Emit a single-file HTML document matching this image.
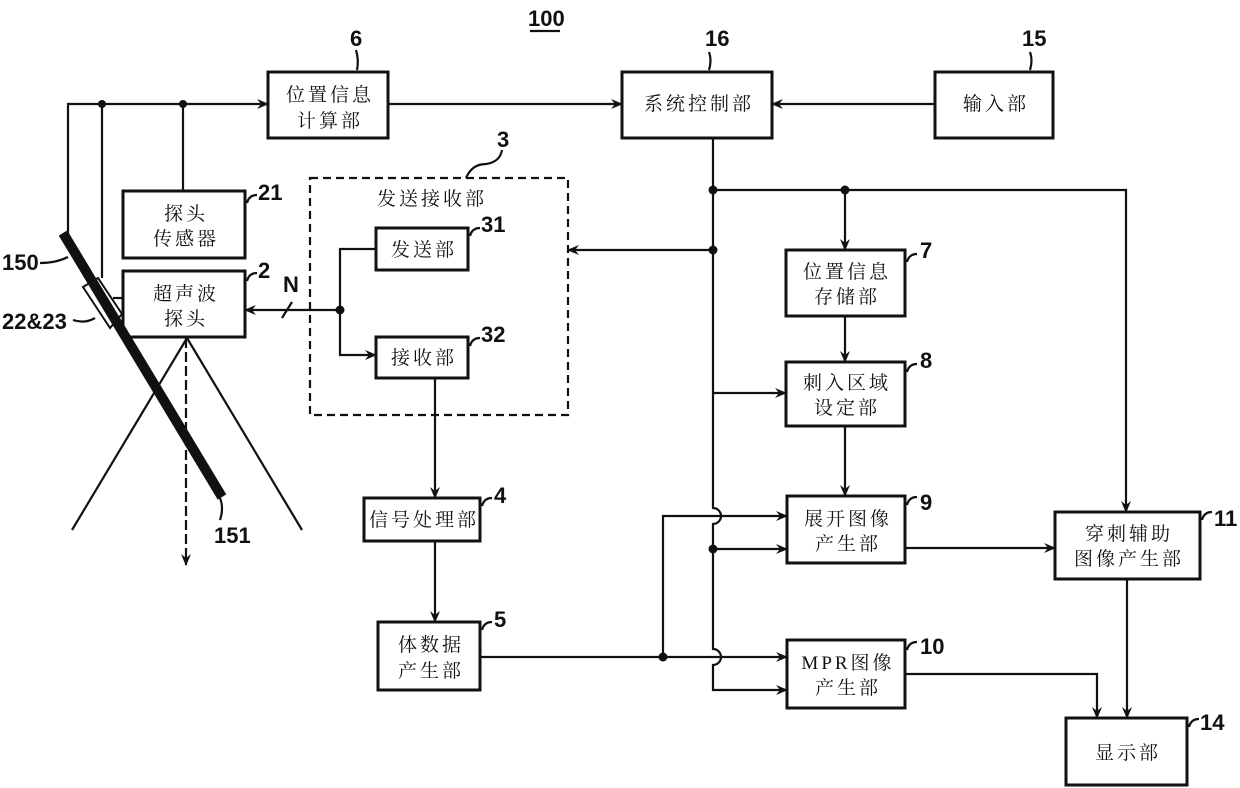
<!DOCTYPE html>
<html><head><meta charset="utf-8"><style>
html,body{margin:0;padding:0;background:#fff;}
svg{display:block;}
text{font-family:"Liberation Serif","Noto Serif CJK SC","Noto Sans CJK SC",serif;font-size:19px;fill:#111;letter-spacing:3px;}
.n{font-family:"Liberation Sans",sans-serif;font-size:22px;font-weight:bold;letter-spacing:0;}
</style></head><body>
<svg width="1240" height="788" viewBox="0 0 1240 788" xmlns="http://www.w3.org/2000/svg">
<defs>
<marker id="a" viewBox="0 0 12 10" refX="11" refY="5" markerWidth="12" markerHeight="10" markerUnits="userSpaceOnUse" orient="auto">
<path d="M0,0 L12,5 L0,10 L4,5 Z" fill="#111"/></marker>
</defs>
<g fill="none" stroke="#111" stroke-width="2.2">
<rect x="268" y="72" width="120" height="66" stroke-width="3"/>
<rect x="622" y="72" width="150" height="66" stroke-width="3"/>
<rect x="935" y="72" width="118" height="66" stroke-width="3"/>
<rect x="123" y="191" width="122" height="67" stroke-width="3"/>
<rect x="123" y="271" width="122" height="66" stroke-width="3"/>
<rect x="310" y="178" width="258" height="237" stroke-dasharray="8,5"/>
<rect x="376" y="228" width="92" height="42" stroke-width="3"/>
<rect x="376" y="337" width="92" height="41" stroke-width="3"/>
<rect x="364" y="498" width="116" height="43" stroke-width="3"/>
<rect x="378" y="622" width="102" height="68" stroke-width="3"/>
<rect x="786" y="250" width="119" height="66" stroke-width="3"/>
<rect x="786" y="362" width="119" height="64" stroke-width="3"/>
<rect x="787" y="496" width="118" height="67" stroke-width="3"/>
<rect x="787" y="640" width="118" height="68" stroke-width="3"/>
<rect x="1055" y="512" width="145" height="67" stroke-width="3"/>
<rect x="1066" y="718" width="121" height="67" stroke-width="3"/>
<polyline points="68,234 68,104 268,104" marker-end="url(#a)"/>
<polyline points="102,104 102,278"/>
<line x1="183" y1="104" x2="183" y2="191"/>
<line x1="113" y1="298" x2="123" y2="298"/>
<line x1="388" y1="104" x2="622" y2="104" marker-end="url(#a)"/>
<line x1="935" y1="104" x2="772" y2="104" marker-end="url(#a)"/>
<path d="M713,138 V508 a8,8 0 0 1 0,16 V649 a8,8 0 0 1 0,16 V690 H787" marker-end="url(#a)"/>
<polyline points="713,190 1126,190 1126,512" marker-end="url(#a)"/>
<line x1="845" y1="190" x2="845" y2="250" marker-end="url(#a)"/>
<line x1="713" y1="250" x2="568" y2="250" marker-end="url(#a)"/>
<line x1="713" y1="393" x2="786" y2="393" marker-end="url(#a)"/>
<line x1="713" y1="549" x2="787" y2="549" marker-end="url(#a)"/>
<line x1="845" y1="316" x2="845" y2="362" marker-end="url(#a)"/>
<line x1="845" y1="426" x2="845" y2="496" marker-end="url(#a)"/>
<line x1="480" y1="657" x2="787" y2="657" marker-end="url(#a)"/>
<polyline points="663,657 663,516 787,516" marker-end="url(#a)"/>
<line x1="905" y1="548" x2="1055" y2="548" marker-end="url(#a)"/>
<polyline points="905,674 1097,674 1097,718" marker-end="url(#a)"/>
<line x1="1127" y1="579" x2="1127" y2="718" marker-end="url(#a)"/>
<line x1="435" y1="378" x2="435" y2="498" marker-end="url(#a)"/>
<line x1="435" y1="541" x2="435" y2="622" marker-end="url(#a)"/>
<line x1="340" y1="310" x2="245" y2="310" marker-end="url(#a)"/>
<line x1="282" y1="318" x2="292" y2="302"/>
<polyline points="376,249 340,249 340,355 376,355" marker-end="url(#a)"/>
<line x1="63" y1="233" x2="222" y2="497" stroke-width="10"/>
<polygon points="83,287 98,278 122,314 110,328" stroke-width="2"/>
<line x1="187" y1="338" x2="72" y2="530"/>
<line x1="187" y1="338" x2="302" y2="530"/>
<line x1="186" y1="338" x2="186" y2="565" stroke-dasharray="10,4" marker-end="url(#a)"/>
<path d="M357,70 q2,-10 -1,-20"/>
<path d="M709,70 q3,-10 0,-18"/>
<path d="M1030,70 q3,-10 0,-18"/>
<path d="M466,178 q6,-14 20,-14 q14,-2 16,-14"/>
<path d="M247,203 q2,-8 10,-8"/>
<path d="M247,281 q2,-8 10,-8"/>
<path d="M470,236 q2,-8 10,-8"/>
<path d="M470,346 q2,-8 10,-8"/>
<path d="M482,506 q2,-8 10,-8"/>
<path d="M482,630 q2,-8 10,-8"/>
<path d="M907,262 q2,-8 10,-8"/>
<path d="M907,372 q2,-8 10,-8"/>
<path d="M907,505 q2,-8 10,-8"/>
<path d="M907,650 q2,-8 10,-8"/>
<path d="M1202,520 q2,-8 10,-8"/>
<path d="M1189,727 q2,-8 10,-8"/>
<path d="M40,263 q16,0 28,-6"/>
<path d="M73,320 q12,4 22,-2"/>
<path d="M220,498 q4,10 0,22"/>
<line x1="530" y1="31" x2="560" y2="31"/>
</g>
<g fill="#111">
<circle cx="102" cy="104" r="4"/><circle cx="183" cy="104" r="4"/>
<circle cx="713" cy="190" r="4.5"/><circle cx="845" cy="190" r="4.5"/>
<circle cx="713" cy="250" r="4.5"/><circle cx="713" cy="549" r="4.5"/>
<circle cx="663" cy="657" r="4.5"/><circle cx="340" cy="310" r="4.5"/>
</g>
<g text-anchor="middle">
<text x="330" y="101">位置信息</text><text x="330" y="127">计算部</text>
<text x="699" y="110">系统控制部</text>
<text x="996" y="110">输入部</text>
<text x="186" y="220">探头</text><text x="186" y="245">传感器</text>
<text x="186" y="300">超声波</text><text x="186" y="325">探头</text>
<text x="432" y="205">发送接收部</text>
<text x="424" y="256">发送部</text>
<text x="424" y="364">接收部</text>
<text x="424" y="526">信号处理部</text>
<text x="431" y="651">体数据</text><text x="431" y="677">产生部</text>
<text x="847" y="278">位置信息</text><text x="847" y="303">存储部</text>
<text x="847" y="389">刺入区域</text><text x="847" y="414">设定部</text>
<text x="848" y="525">展开图像</text><text x="848" y="550">产生部</text>
<text x="848" y="669">MPR图像</text><text x="848" y="694">产生部</text>
<text x="1129" y="540">穿刺辅助</text><text x="1129" y="565">图像产生部</text>
<text x="1128" y="759">显示部</text>
</g>
<g>
<text class="n" x="528" y="26">100</text>
<text class="n" x="350" y="46">6</text>
<text class="n" x="705" y="46">16</text>
<text class="n" x="1022" y="46">15</text>
<text class="n" x="497" y="147">3</text>
<text class="n" x="258" y="200">21</text>
<text class="n" x="258" y="278">2</text>
<text class="n" x="283" y="292">N</text>
<text class="n" x="481" y="232">31</text>
<text class="n" x="481" y="342">32</text>
<text class="n" x="494" y="503">4</text>
<text class="n" x="494" y="627">5</text>
<text class="n" x="920" y="258">7</text>
<text class="n" x="920" y="368">8</text>
<text class="n" x="920" y="510">9</text>
<text class="n" x="920" y="654">10</text>
<text class="n" x="1214" y="526">11</text>
<text class="n" x="1200" y="730">14</text>
<text class="n" x="2" y="270">150</text>
<text class="n" x="2" y="329">22&amp;23</text>
<text class="n" x="214" y="543">151</text>
</g>
</svg>
</body></html>
